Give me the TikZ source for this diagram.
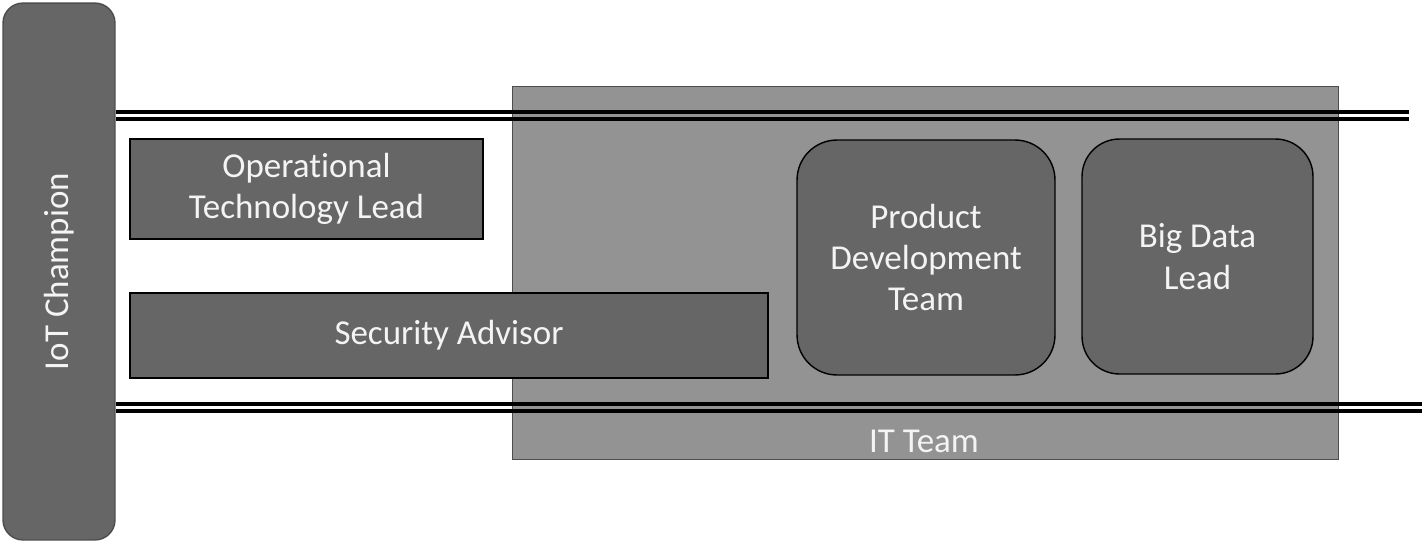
\documentclass[tikz,border=0pt]{standalone}
\usepackage{fontspec}
\setmainfont{Carlito}[Ligatures=NoCommon]
\usetikzlibrary{positioning}
\definecolor{boxgray}{HTML}{666666}
\definecolor{teamgray}{HTML}{939393}
\definecolor{edgegray}{HTML}{4D4D4D}
\definecolor{labelwhite}{HTML}{F4F4F4}

\begin{document}
\begin{tikzpicture}[x=0.02cm,y=-0.02cm,
	role/.style={draw=black,line width=0.8pt,fill=boxgray,text=labelwhite,
		font=\fontsize{19.9}{23.5}\selectfont,align=center,inner sep=0pt},
	rail/.style={line width=2pt,black}]
	\useasboundingbox (0,0) rectangle (1425,544);
	
	% IT team frame
	\node[draw=edgegray,line width=0.6pt,fill=teamgray,minimum width=16.54cm,
	minimum height=7.48cm,inner sep=0pt] at (925.5,273) (it) {};
	\node[text=labelwhite,font=\fontsize{19.9}{23.5}\selectfont] at (924,441) (itlabel) {IT Team};
	
	% champion bar
	\node[draw=edgegray,line width=0.8pt,fill=boxgray,rounded corners=0.4cm,
	minimum width=2.24cm,minimum height=10.74cm,inner sep=0pt] at (59,271.5) (champ) {};
	\node[rotate=90,text=labelwhite,font=\fontsize{19.9}{23.5}\selectfont] at (champ.center) (champlabel) {IoT Champion};
	
	% double rails
	\foreach \y/\e in {112/1409,119/1409,404/1422,411/1422}{
		\coordinate (r\y) at (\e,\y);
		\draw[rail] (champ.east |- r\y) -- (r\y);
	}
	
	\node[role,minimum width=7.06cm,minimum height=2cm] at (306.5,189) (ot) {Operational\\Technology Lead};
	\node[role,minimum width=12.76cm,minimum height=1.7cm] at (449,335.5) (sec) {Security Advisor};
	\node[role,rounded corners=0.8cm,minimum width=5.16cm,minimum height=4.7cm] at (926,257.5) (prod) {Product\\Development\\Team};
	\node[role,rounded corners=0.75cm,minimum width=4.62cm,minimum height=4.7cm] at (1197.5,256.5) (bigdata) {Big Data\\Lead};
\end{tikzpicture}
\end{document}
